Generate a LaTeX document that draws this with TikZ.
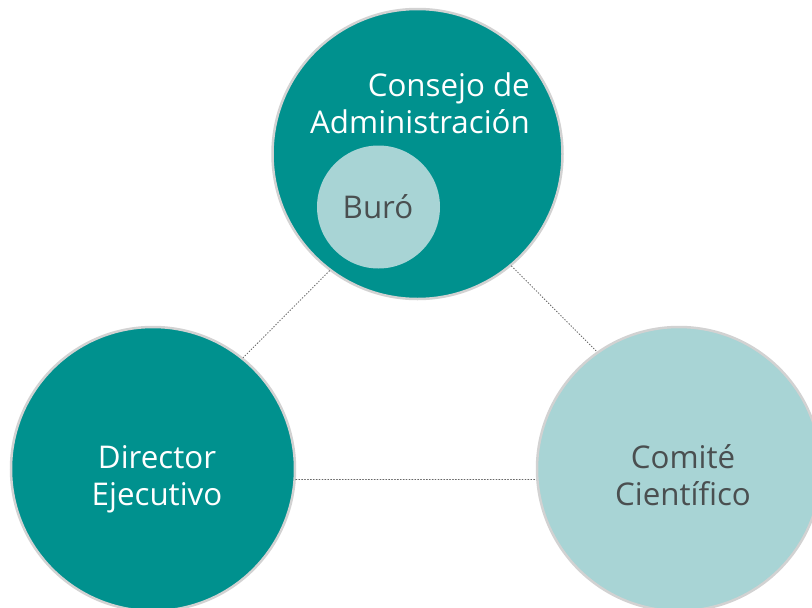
\documentclass[tikz,border=0pt]{standalone}
\usepackage{fontspec}
\setmainfont{Open Sans}
\definecolor{tealdark}{HTML}{00918E}
\definecolor{teallight}{HTML}{A8D4D5}
\definecolor{ringgray}{HTML}{D2D2D2}
\definecolor{txtdark}{HTML}{4A4F50}
\definecolor{dotgray}{HTML}{666666}
\tikzset{
  bubble/.style={circle, draw=ringgray, line width=2.5pt, inner sep=0pt},
  lbl/.style={font=\fontsize{31.3}{36.5}\selectfont, align=center, inner sep=0pt},
  link/.style={draw=dotgray, line width=0.9pt, dotted, line cap=round}
}
\begin{document}
\begin{tikzpicture}[x=1pt,y=-1pt]
\useasboundingbox (0,0) rectangle (812,608);
\clip (0,0) rectangle (812,608);
\fill[white] (0,0) rectangle (812,608);
\node[bubble, fill=tealdark, minimum size=290pt] (cons) at (417.5,154) {};
\node[bubble, draw=none, fill=teallight, minimum size=123pt] (buro) at (378.5,207) {};
\node[bubble, fill=tealdark, minimum size=284pt] (dir) at (153,469) {};
\node[bubble, fill=teallight, minimum size=284pt] (com) at (679,469) {};
\node[lbl, text=white, anchor=base east, align=right] (tcons) at (530,133) {Consejo de\\Administración};
\node[lbl, text=txtdark, anchor=base] (tburo) at (378,218) {Buró};
\node[lbl, text=white, anchor=base] (tdir) at (157,505) {Director\\Ejecutivo};
\node[lbl, text=txtdark, anchor=base] (tcom) at (683,505) {Comité\\Científico};
\draw[link] (cons.233) -- (dir.51);
\draw[link] (cons.310) -- (com.125);
\draw[link] (dir.-4) -- (com.184);
\end{tikzpicture}
\end{document}
